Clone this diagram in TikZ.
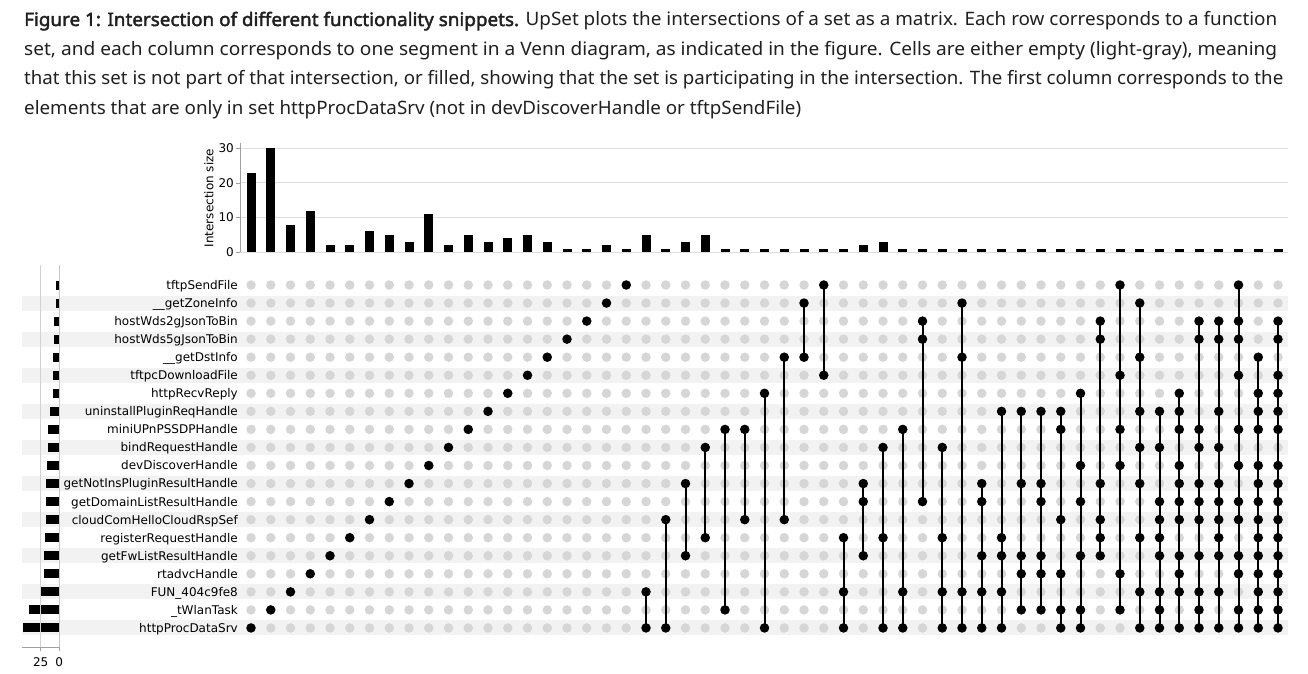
\documentclass[tikz,border=0pt]{standalone}
\usepackage{fontspec}
\usepackage{graphicx}
\newfontfamily\capfont{Noto Sans}
\newfontfamily\capbold{Noto Sans}[FakeBold=2.2]
\newfontfamily\plotfont{DejaVu Sans}
\definecolor{capcol}{RGB}{32,32,32}
\definecolor{dotgray}{RGB}{214,214,214}
\definecolor{bandgray}{RGB}{242,242,242}
\definecolor{gridgray}{RGB}{222,222,222}
\definecolor{axisgray}{RGB}{160,160,160}
\tikzset{
  gdot/.style={circle, fill=dotgray, inner sep=0pt, minimum size=9.5pt},
  bdot/.style={circle, fill=black, inner sep=0pt, minimum size=9.5pt},
  link/.style={line width=2pt, black},
  rowlab/.style={anchor=base east, inner sep=0pt, font=\plotfont\fontsize{12}{14}\selectfont},
  ticklab/.style={inner sep=0pt, font=\plotfont\fontsize{12}{14}\selectfont},
  capline/.style={anchor=base west, inner sep=0pt, text=capcol, font=\capfont\fontsize{18.5}{22}\selectfont},
  gridln/.style={gridgray, line width=1pt},
  axisln/.style={axisgray, line width=0.9pt},
}
\begin{document}
\begin{tikzpicture}[x=1pt,y=-1pt]
\useasboundingbox[fill=white] (0,0) rectangle (1308,674);

% ---------- caption ----------
\node[capline] (cap1) at (24,26) {\resizebox{1253pt}{\height}{{\capbold Figure 1: Intersection of different functionality snippets.} UpSet plots the intersections of a set as a matrix. Each row corresponds to a function}};
\node[capline] (cap2) at (24,56) {\resizebox{1253pt}{\height}{set, and each column corresponds to one segment in a Venn diagram, as indicated in the figure. Cells are either empty (light-gray), meaning}};
\node[capline] (cap3) at (24,85) {\resizebox{1259pt}{\height}{that this set is not part of that intersection, or filled, showing that the set is participating in the intersection. The first column corresponds to the}};
\node[capline] (cap4) at (24,115) {\resizebox{777pt}{\height}{elements that are only in set httpProcDataSrv (not in devDiscoverHandle or tftpSendFile)}};

% ---------- row bands ----------
\foreach \r in {1,3,...,19}
  \fill[bandgray] (22,{285+18.05*\r-7.5}) rectangle (1288,{285+18.05*\r+7.5});

% ---------- intersection size chart ----------
\foreach \v in {0,10,20,30}
  \draw[gridln] (240,{252.3-3.467*\v}) -- (1288,{252.3-3.467*\v});
\foreach \c/\h in {0/23,1/30,2/8,3/12,4/2,5/2,6/6,7/5,8/3,9/11,10/2,11/5,12/3,13/4,14/5,15/3,16/1,17/1,18/2,19/1,20/5,21/1,22/3,23/5,24/1,25/1,26/1,27/1,28/1,29/1,30/1,31/2,32/3,33/1,34/1,35/1,36/1,37/1,38/1,39/1,40/1,41/1,42/1,43/1,44/1,45/1,46/1,47/1,48/1,49/1,50/1,51/1,52/1}
  \fill[black] ({251+19.75*\c-4.5},{252.3-3.467*\h}) rectangle ({251+19.75*\c+4.5},252.3);
\draw[axisln] (240,143) -- (240,252.3);
\foreach \v in {0,10,20,30} {
  \draw[axisln] (236,{252.3-3.467*\v}) -- (240,{252.3-3.467*\v});
  \node[ticklab, anchor=east] (yt-\v) at (234,{252.3-3.467*\v}) {\v};
}
\node[ticklab, rotate=90] (ylab) at (209,198) {Intersection size};

% ---------- set size chart ----------
\foreach \r/\s in {0/4,1/5,2/7,3/7,4/8,5/9,6/9,7/13,8/15,9/15,10/17,11/18,12/18,13/18,14/19,15/20,16/20,17/26,18/41,19/49}
  \fill[black] ({59.3-0.745*\s},{285+18.05*\r-4.5}) rectangle (59.3,{285+18.05*\r+4.5});
\draw[gridln, gray!35] (40.7,265) -- (40.7,647);
\draw[axisln, gray!45] (59.3,265) -- (59.3,647);
\draw[axisln] (22,647) -- (59.3,647);
\draw[axisln] (40.7,647) -- (40.7,651);
\draw[axisln] (59.3,647) -- (59.3,651);
\node[ticklab] (xt-25) at (40.7,662) {25};
\node[ticklab] (xt-0) at (59.3,662) {0};

% ---------- row labels ----------
\foreach \r/\name in {0/tftpSendFile,1/\_\_getZoneInfo,2/hostWds2gJsonToBin,3/hostWds5gJsonToBin,4/\_\_getDstInfo,5/tftpcDownloadFile,6/httpRecvReply,7/uninstallPluginReqHandle,8/miniUPnPSSDPHandle,9/bindRequestHandle,10/devDiscoverHandle,11/getNotInsPluginResultHandle,12/getDomainListResultHandle,13/cloudComHelloCloudRspSef,14/registerRequestHandle,15/getFwListResultHandle,16/rtadvcHandle,17/FUN\_404c9fe8,18/\_tWlanTask,19/httpProcDataSrv}
  \node[rowlab] (lab-\r) at (238,{285+18.05*\r+4.4}) {\name};

% ---------- matrix ----------
\foreach \c in {0,...,52}
  \foreach \r in {0,...,19}
    \node[gdot] (g-\c-\r) at ({251+19.75*\c},{285+18.05*\r}) {};
\foreach \c in {0,...,19} {
  \pgfmathtruncatemacro{\rr}{19-\c}
  \node[bdot] (d-\c-\rr) at (g-\c-\rr) {};
}
\foreach \c/\ctop/\cbot/\rs in {
  20/17/19/{17,19},
  21/13/19/{13,19},
  22/11/15/{11,15},
  23/9/14/{9,14},
  24/8/18/{8,18},
  25/8/13/{8,13},
  26/6/19/{6,19},
  27/4/13/{4,13},
  28/1/4/{1,4},
  29/0/5/{0,5},
  30/14/19/{14,17,19},
  31/11/15/{11,12,15},
  32/9/19/{9,14,19},
  33/8/19/{8,17,19},
  34/2/12/{2,3,12},
  35/9/19/{9,14,17,19},
  36/1/19/{1,4,17,19},
  37/11/19/{11,12,15,17,19},
  38/7/19/{7,14,15,17,19},
  39/7/18/{7,11,15,16,18},
  40/7/18/{7,11,12,15,16,18},
  41/7/19/{7,8,13,16,18,19},
  42/6/19/{6,10,12,15,18,19},
  43/2/15/{2,3,11,13,14,15},
  44/0/18/{0,5,8,10,16,18},
  45/1/19/{1,4,7,9,11,14,17,19},
  46/7/19/{7,9,12,13,14,15,17,18,19},
  47/6/19/{6,7,8,10,11,12,13,15,16,17,19},
  48/2/19/{2,3,8,9,11,12,13,15,17,18,19},
  49/2/19/{2,3,7,9,11,12,13,14,15,17,19},
  50/0/19/{0,2,3,5,8,10,12,13,15,16,18,19},
  51/4/19/{4,6,7,8,10,11,12,13,14,15,16,17,18,19},
  52/2/19/{2,3,5,6,7,8,10,11,12,13,14,15,16,17,18,19}} {
  \draw[link] (g-\c-\ctop.center) -- (g-\c-\cbot.center);
  \foreach \r in \rs
    \node[bdot] (d-\c-\r) at (g-\c-\r) {};
}
\end{tikzpicture}
\end{document}
